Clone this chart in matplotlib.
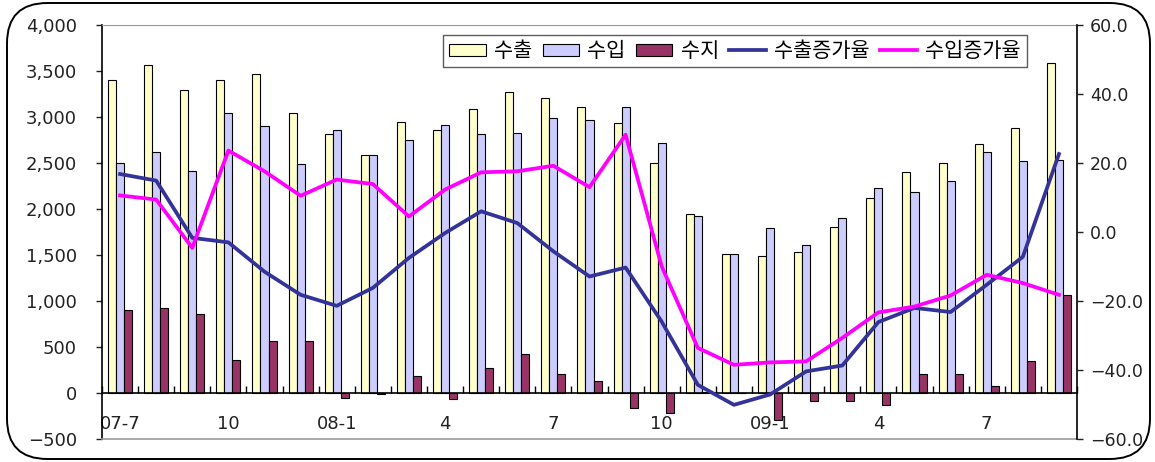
import matplotlib
matplotlib.use("Agg")
import matplotlib.pyplot as plt
from matplotlib.patches import FancyBboxPatch, Patch
from matplotlib.lines import Line2D
import numpy as np

plt.rcParams['font.family'] = ['DejaVu Sans', 'Noto Sans CJK KR']
plt.rcParams['axes.unicode_minus'] = True

# Monthly trade figures, 2007-07 .. 2009-09
months = ['07-7', '07-8', '07-9', '07-10', '07-11', '07-12',
          '08-1', '08-2', '08-3', '08-4', '08-5', '08-6',
          '08-7', '08-8', '08-9', '08-10', '08-11', '08-12',
          '09-1', '09-2', '09-3', '09-4', '09-5', '09-6',
          '09-7', '09-8', '09-9']
tick_labels = ['07-7', '10', '08-1', '4', '7', '10', '09-1', '4', '7']

exports = [3400, 3560, 3290, 3400, 3465, 3040, 2810, 2590, 2950, 2860,
           3085, 3272, 3207, 3106, 2935, 2504, 1942, 1515, 1489, 1533,
           1809, 2116, 2402, 2504, 2707, 2877, 3591]
imports = [2500, 2615, 2410, 3040, 2900, 2490, 2860, 2590, 2750, 2915,
           2812, 2826, 2993, 2964, 3106, 2722, 1924, 1515, 1794, 1609,
           1899, 2233, 2185, 2309, 2616, 2526, 2537]
balance = [900, 920, 860, 360, 560, 560, -50, -15, 180, -60,
           272, 424, 207, 135, -166, -217, 10, 0, -289, -90,
           -90, -126, 211, 211, 76, 352, 1062]
export_growth = [16.8, 14.9, -1.7, -3.0, -11.5, -18.2, -21.4, -16.2, -7.5, -0.3,
                 6.0, 2.6, -5.6, -12.9, -10.3, -26.0, -44.3, -50.1, -47.1, -40.4,
                 -38.7, -26.1, -22.0, -23.2, -15.3, -7.2, 22.6]
import_growth = [10.6, 9.4, -4.6, 23.6, 17.6, 10.5, 15.2, 13.9, 4.5, 12.3,
                 17.3, 17.6, 19.2, 13.0, 28.2, -10.0, -33.6, -38.5, -37.8, -37.5,
                 -30.7, -23.3, -21.6, -18.4, -12.4, -14.8, -18.2]

c_exp = '#FFFFCC'
c_imp = '#CCCCFF'
c_bal = '#993366'
c_eg = '#333399'
c_ig = '#FF00FF'

fig = plt.figure(figsize=(11.55, 4.62), dpi=100)

# rounded outer frame
frame = FancyBboxPatch((7 / 1155, 3 / 462), 1143 / 1155, 456 / 462,
                       boxstyle="round,pad=0,rounding_size=0.035",
                       transform=fig.transFigure, facecolor='none',
                       edgecolor='black', linewidth=1.4, mutation_aspect=2.5,
                       zorder=-1)
fig.patches.append(frame)

ax = fig.add_axes([102 / 1155, 23 / 462, 975 / 1155, 414 / 462])
ax.set_facecolor('none')
n = len(months)
x = np.arange(n) + 0.5
w = 0.222

ax.bar(x - w, exports, w, color=c_exp, edgecolor='black', linewidth=0.8, zorder=2)
ax.bar(x, imports, w, color=c_imp, edgecolor='black', linewidth=0.8, zorder=2)
ax.bar(x + w, balance, w, color=c_bal, edgecolor='black', linewidth=0.8, zorder=2)

ax.set_xlim(0, n)
ax.set_ylim(-500, 4000)
ax.set_yticks(np.arange(-500, 4001, 500))
ax.set_yticklabels([f"{v:,}".replace('-', '\u2212') for v in range(-500, 4001, 500)])
ax.tick_params(axis='y', direction='out', length=4.5, width=1, pad=13.5,
               labelsize=13, colors='#222222')

# category axis sits on zero
ax.spines['bottom'].set_position(('data', 0))
ax.spines['bottom'].set_color('black')
ax.spines['bottom'].set_linewidth(1.2)
ax.spines['left'].set_color('black')
ax.spines['left'].set_linewidth(1.2)
ax.spines['top'].set_color('#999999')
ax.spines['right'].set_visible(False)
ax.plot([0, 1], [0, 0], transform=ax.transAxes, color='#999999',
        linewidth=1.2, clip_on=False, zorder=5)

ax.set_xticks(np.arange(0, n + 1))
ax.set_xticklabels([])
ax.tick_params(axis='x', which='major', direction='in', length=5, width=1,
               color='black')
label_pos = np.arange(0, n, 3) + 0.5
ax.set_xticks(label_pos, minor=True)
ax.set_xticklabels(tick_labels, minor=True)
ax.tick_params(axis='x', which='minor', length=0, pad=16, labelsize=13,
               colors='#222222')

ax2 = ax.twinx()
ax2.plot(x, export_growth, color=c_eg, linewidth=2.7, zorder=3)
ax2.plot(x, import_growth, color=c_ig, linewidth=2.7, zorder=3)
ax2.set_ylim(-60, 60)
ax2.set_yticks(np.arange(-60, 61, 20))
ax2.set_yticklabels([f"{v:.1f}".replace('-', '\u2212') for v in range(-60, 61, 20)])
ax2.tick_params(axis='y', direction='out', length=4.5, width=1, pad=5,
                labelsize=12.5, colors='#222222')
for s in ['top', 'bottom', 'left']:
    ax2.spines[s].set_visible(False)
ax2.spines['right'].set_color('black')
ax2.spines['right'].set_linewidth(1.2)

handles = [Patch(facecolor=c_exp, edgecolor='black', linewidth=0.8),
           Patch(facecolor=c_imp, edgecolor='black', linewidth=0.8),
           Patch(facecolor=c_bal, edgecolor='black', linewidth=0.8),
           Line2D([], [], color=c_eg, linewidth=2.7),
           Line2D([], [], color=c_ig, linewidth=2.7)]
names = ['수출', '수입', '수지', '수출증가율', '수입증가율']
leg = ax2.legend(handles, names, ncol=5, loc='upper right',
                 bbox_to_anchor=(0.9487, 0.976), fontsize=15,
                 frameon=True, fancybox=False, handlelength=1.75,
                 handleheight=0.55, handletextpad=0.4, columnspacing=0.5,
                 borderpad=0.3, borderaxespad=0)
leg.get_frame().set_edgecolor('#333333')
leg.get_frame().set_linewidth(1.0)

fig.savefig('out.png', dpi=100)
